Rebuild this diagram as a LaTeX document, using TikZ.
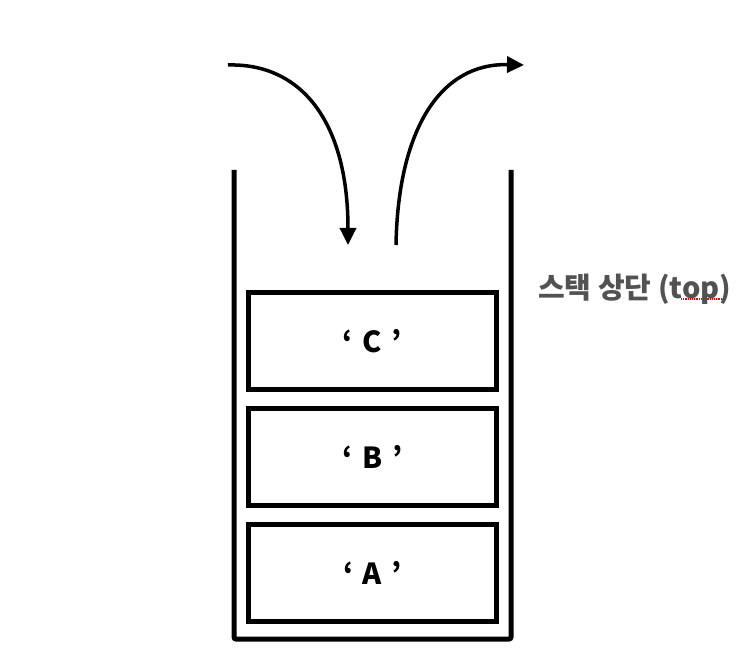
\documentclass[tikz,border=0pt]{standalone}
\usepackage{fontspec}
\setmainfont{Noto Sans CJK KR}[BoldFont={* Bold}]
\newfontfamily\cjk{Noto Sans CJK KR}
\usetikzlibrary{arrows.meta}

\tikzset{
  item/.style={draw, line width=5pt, minimum width=248pt, minimum height=97pt,
    inner sep=0pt, font=\cjk\bfseries\fontsize{29}{29}\selectfont},
  push/.style={line width=3.5pt, -{Triangle[length=17pt,width=16pt]}}
}

\begin{document}
\begin{tikzpicture}[x=1pt, y=-1pt]
    \useasboundingbox (0,0) rectangle (750,671);

    % Stack container
    \draw[line width=5pt, rounded corners=2pt] (234,170) -- (234,639) -- (511,639) -- (511,170);

    % Items
    \node[item] (itemC) at (372.5,341) {‘\,\,C\,\,’};
    \node[item] (itemB) at (372.5,457) {‘\,\,B\,\,’};
    \node[item] (itemA) at (372.5,573) {‘\,\,A\,\,’};

    % Push and pop
    \coordinate (pushStart) at (228,65);
    \coordinate (pushEnd) at (348,245);
    \coordinate (popStart) at (396,245);
    \coordinate (popEnd) at (524,65);
    \draw[push] (pushStart) .. controls (300,63) and (348,120) .. (pushEnd);
    \draw[push] (popStart) .. controls (398,130) and (440,63) .. (popEnd);

    % Top label
    \node[anchor=west, inner sep=0pt, text=black!68, font=\cjk\bfseries\fontsize{29}{29}\selectfont] (topLabel) at (538,289) {스택 상단 (top)};
    \draw[red, densely dotted, line width=1.2pt] (681,299) -- (723,299);
\end{tikzpicture}
\end{document}
